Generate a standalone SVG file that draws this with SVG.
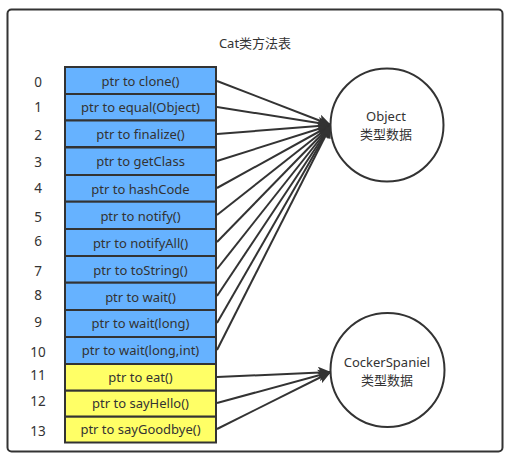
<svg xmlns="http://www.w3.org/2000/svg" width="512" height="462" viewBox="0 0 512 462">
<defs>
<style>
.t{font-family:"Noto Sans","Noto Sans CJK SC",sans-serif;font-size:13px;fill:#333;text-anchor:middle;dominant-baseline:central}
.n{font-family:"Noto Sans",sans-serif;font-size:13.5px;fill:#333;text-anchor:middle;dominant-baseline:central}
.b{fill:#66b2ff;stroke:#333;stroke-width:2}
.y{fill:#ffff66;stroke:#333;stroke-width:2}
.c{fill:#fff;stroke:#333;stroke-width:2}
.l{fill:none;stroke:#333;stroke-width:2;marker-end:url(#ah)}
</style>
<marker id="ah" markerUnits="userSpaceOnUse" markerWidth="14" markerHeight="12" refX="13" refY="6" orient="auto">
<path d="M0,0 L13,6 L0,12 L3,6 Z" fill="#333"/>
</marker>
</defs>
<rect x="7.5" y="9.5" width="495" height="442" rx="4" fill="#fff" stroke="#333" stroke-width="2"/>
<text class="t" x="255" y="43">Cat类方法表</text>

<g id="connectors">
<line class="l" x1="217" y1="81" x2="331" y2="125"/>
<line class="l" x1="217" y1="107" x2="331" y2="125"/>
<line class="l" x1="217" y1="134" x2="331" y2="125"/>
<line class="l" x1="217" y1="161" x2="331" y2="125"/>
<line class="l" x1="217" y1="188" x2="331" y2="125"/>
<line class="l" x1="217" y1="215" x2="331" y2="125"/>
<line class="l" x1="217" y1="242" x2="331" y2="125"/>
<line class="l" x1="217" y1="269" x2="331" y2="125"/>
<line class="l" x1="217" y1="296" x2="331" y2="125"/>
<line class="l" x1="217" y1="323" x2="331" y2="125"/>
<line class="l" x1="217" y1="350" x2="331" y2="125"/>
<line class="l" x1="217" y1="377" x2="331" y2="372"/>
<line class="l" x1="217" y1="403" x2="331" y2="372"/>
<line class="l" x1="217" y1="429" x2="331" y2="372"/>
</g>

<g id="table">
<g id="row0"><rect class="b" x="65" y="67" width="151" height="27"/><text class="t" x="140.5" y="80.5">ptr to clone()</text><text class="n" x="38" y="81.5">0</text></g>
<g id="row1"><rect class="b" x="65" y="94" width="151" height="26.5"/><text class="t" x="140.5" y="107">ptr to equal(Object)</text><text class="n" x="38" y="106.5">1</text></g>
<g id="row2"><rect class="b" x="65" y="120.5" width="151" height="26.5"/><text class="t" x="140.5" y="133.5">ptr to finalize()</text><text class="n" x="38" y="134.5">2</text></g>
<g id="row3"><rect class="b" x="65" y="147.5" width="151" height="27.5"/><text class="t" x="140.5" y="161">ptr to getClass</text><text class="n" x="38" y="161.5">3</text></g>
<g id="row4"><rect class="b" x="65" y="175" width="151" height="26.7"/><text class="t" x="140.5" y="188.5">ptr to hashCode</text><text class="n" x="38" y="187.5">4</text></g>
<g id="row5"><rect class="b" x="65" y="201.7" width="151" height="27.3"/><text class="t" x="140.5" y="216">ptr to notify()</text><text class="n" x="38" y="216.5">5</text></g>
<g id="row6"><rect class="b" x="65" y="229" width="151" height="27"/><text class="t" x="140.5" y="242.5">ptr to notifyAll()</text><text class="n" x="38" y="240.5">6</text></g>
<g id="row7"><rect class="b" x="65" y="256" width="151" height="26.7"/><text class="t" x="140.5" y="270">ptr to toString()</text><text class="n" x="38" y="270.5">7</text></g>
<g id="row8"><rect class="b" x="65" y="282.7" width="151" height="27.3"/><text class="t" x="140.5" y="296.5">ptr to wait()</text><text class="n" x="38" y="295">8</text></g>
<g id="row9"><rect class="b" x="65" y="310" width="151" height="27"/><text class="t" x="140.5" y="323">ptr to wait(long)</text><text class="n" x="38" y="321.5">9</text></g>
<g id="row10"><rect class="b" x="65" y="337" width="151" height="27"/><text class="t" x="140.5" y="349.5">ptr to wait(long,int)</text><text class="n" x="38" y="351.5">10</text></g>
<g id="row11"><rect class="y" x="65" y="364" width="151" height="26.7"/><text class="t" x="140.5" y="377">ptr to eat()</text><text class="n" x="38" y="375">11</text></g>
<g id="row12"><rect class="y" x="65" y="390.7" width="151" height="26"/><text class="t" x="140.5" y="402.5">ptr to sayHello()</text><text class="n" x="38" y="400.5">12</text></g>
<g id="row13"><rect class="y" x="65" y="416.7" width="151" height="25.8"/><text class="t" x="140.5" y="429">ptr to sayGoodbye()</text><text class="n" x="38" y="430.5">13</text></g>
</g>

<g id="object">
<circle class="c" cx="387" cy="125" r="56.5"/>
<text class="t" x="386" y="115.5">Object</text>
<text class="t" x="386" y="133.5">类型数据</text>
</g>
<g id="cocker">
<circle class="c" cx="387.5" cy="370" r="57"/>
<text class="t" x="387" y="362">CockerSpaniel</text>
<text class="t" x="387" y="380">类型数据</text>
</g>
</svg>
